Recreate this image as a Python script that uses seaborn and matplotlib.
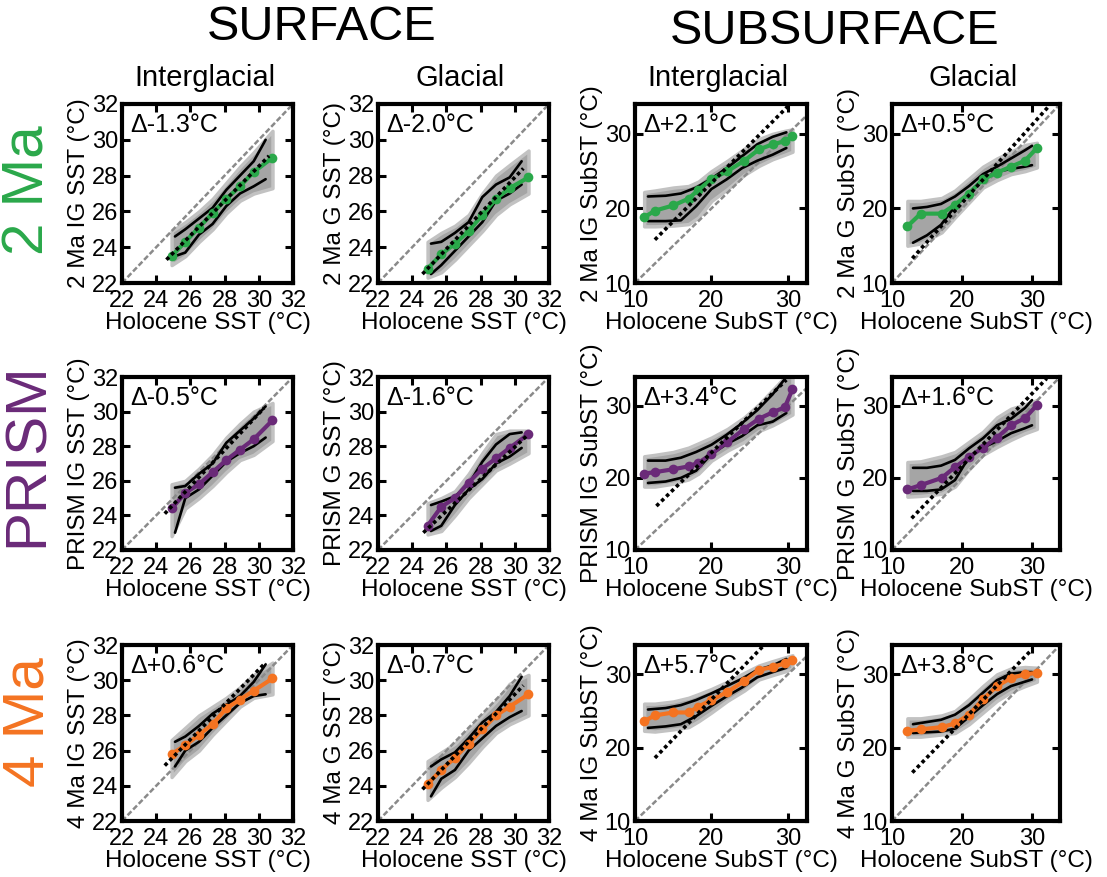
import matplotlib
matplotlib.use("Agg")
import matplotlib.pyplot as plt
import seaborn as sns

# ---------------- shared x (Holocene) positions ----------------
SURF_X_MEAN = [24.9, 25.7, 26.5, 27.3, 28.1, 28.9, 29.7, 30.8]
SURF_X_BOUND = [25.1, 25.7, 26.5, 27.3, 28.1, 28.9, 29.7, 30.4]
SUB3_X_MEAN = [11.2, 12.6, 15.0, 17.0, 18.3, 20.0, 22.1, 24.3, 26.2, 28.0, 29.6, 30.6]
SUB3_X_BOUND = [11.7, 14.0, 16.0, 18.0, 20.0, 22.0, 24.0, 26.0, 28.0, 29.8]
SUB4_X_MEAN = [12.2, 14.1, 17.1, 19.0, 21.0, 23.0, 25.0, 27.0, 29.0, 30.7]
SUB4_X_BOUND = [13.0, 15.0, 17.0, 19.0, 21.0, 23.0, 25.0, 27.0, 29.0, 30.0]

# ---------------- 2 Ma, surface, interglacial ----------------
MA2_SST_IG_MEAN = [23.5, 24.3, 25.1, 25.9, 26.7, 27.4, 28.2, 29.0]
MA2_SST_IG_UP = [24.6, 25.0, 25.6, 26.2, 27.2, 28.0, 28.8, 30.0]
MA2_SST_IG_LO = [23.5, 23.7, 24.7, 25.3, 26.3, 27.0, 27.4, 27.8]
MA2_SST_IG_BHI = [24.9, 25.4, 26.0, 26.7, 27.6, 28.5, 29.3, 30.5]
MA2_SST_IG_BLO = [23.0, 23.5, 24.3, 25.0, 25.9, 26.6, 27.0, 27.3]
MA2_SST_IG_REGX = [24.6, 30.6]
MA2_SST_IG_REGY = [23.3, 29.1]
# ---------------- 2 Ma, surface, glacial ----------------
MA2_SST_G_MEAN = [22.8, 23.6, 24.2, 24.9, 25.8, 26.7, 27.3, 27.9]
MA2_SST_G_UP = [24.2, 24.3, 24.8, 25.4, 26.8, 27.5, 27.9, 28.8]
MA2_SST_G_LO = [22.5, 23.0, 23.8, 24.6, 25.4, 26.6, 27.0, 27.5]
MA2_SST_G_BHI = [24.3, 24.8, 25.2, 25.8, 27.0, 28.0, 28.6, 29.4]
MA2_SST_G_BLO = [22.3, 22.6, 23.3, 24.1, 24.9, 25.8, 26.4, 27.0]
MA2_SST_G_REGX = [24.6, 30.5]
MA2_SST_G_REGY = [22.5, 28.4]
# ---------------- PRISM, surface, interglacial ----------------
PR_SST_IG_MEAN = [24.4, 25.3, 25.8, 26.5, 27.2, 27.8, 28.4, 29.5]
PR_SST_IG_UP = [25.6, 25.7, 26.4, 27.0, 28.2, 28.9, 29.6, 30.3]
PR_SST_IG_LO = [23.0, 25.0, 25.5, 26.3, 27.1, 27.6, 28.0, 28.5]
PR_SST_IG_BHI = [25.8, 26.0, 26.7, 27.5, 28.5, 29.3, 30.0, 30.5]
PR_SST_IG_BLO = [22.8, 24.4, 25.0, 25.7, 26.5, 27.2, 27.5, 28.3]
PR_SST_IG_REGX = [24.5, 30.3]
PR_SST_IG_REGY = [24.1, 30.2]
# ---------------- PRISM, surface, glacial ----------------
PR_SST_G_MEAN = [23.4, 24.5, 25.0, 25.9, 26.7, 27.3, 27.9, 28.7]
PR_SST_G_UP = [24.6, 24.8, 25.1, 25.8, 27.1, 28.1, 28.7, 28.8]
PR_SST_G_LO = [23.1, 23.4, 24.6, 25.5, 26.1, 27.0, 27.4, 27.9]
PR_SST_G_BHI = [24.7, 25.0, 25.4, 26.4, 27.6, 28.7, 28.9, 28.9]
PR_SST_G_BLO = [22.9, 23.1, 24.0, 25.0, 25.8, 26.6, 27.0, 27.6]
PR_SST_G_REGX = [24.65, 30.7]
PR_SST_G_REGY = [23.0, 28.6]
# ---------------- 4 Ma, surface, interglacial ----------------
MA4_SST_IG_MEAN = [25.8, 26.3, 26.9, 27.5, 28.4, 28.9, 29.4, 30.1]
MA4_SST_IG_UP = [26.5, 26.8, 27.4, 28.1, 28.6, 29.1, 29.9, 30.9]
MA4_SST_IG_LO = [25.1, 26.0, 26.5, 27.3, 28.0, 28.7, 29.1, 29.2]
MA4_SST_IG_BHI = [26.6, 27.3, 28.0, 28.5, 29.0, 29.6, 30.3, 31.0]
MA4_SST_IG_BLO = [24.5, 25.4, 26.0, 26.9, 27.7, 28.5, 29.0, 29.2]
MA4_SST_IG_REGX = [24.5, 30.4]
MA4_SST_IG_REGY = [25.15, 31.0]
# ---------------- 4 Ma, surface, glacial ----------------
MA4_SST_G_MEAN = [24.1, 24.9, 25.6, 26.4, 27.2, 28.0, 28.5, 29.2]
MA4_SST_G_UP = [25.1, 25.5, 25.9, 26.7, 27.6, 28.2, 29.1, 30.2]
MA4_SST_G_LO = [23.4, 24.4, 24.9, 26.0, 26.7, 27.4, 27.9, 28.25]
MA4_SST_G_BHI = [25.4, 25.9, 26.4, 27.2, 28.0, 28.8, 29.8, 30.3]
MA4_SST_G_BLO = [23.2, 23.9, 24.5, 25.3, 26.2, 27.0, 27.5, 28.0]
MA4_SST_G_REGX = [24.6, 30.5]
MA4_SST_G_REGY = [23.8, 29.7]

# ---------------- 2 Ma, subsurface, interglacial ----------------
MA2_SUB_IG_MEAN = [18.8, 19.7, 20.4, 21.3, 22.5, 23.9, 25.0, 26.4, 27.9, 28.6, 29.0, 29.7]
MA2_SUB_IG_UP = [21.6, 21.7, 22.0, 22.8, 24.0, 25.4, 27.0, 28.6, 29.6, 30.2]
MA2_SUB_IG_LO = [18.3, 18.3, 18.4, 20.3, 22.6, 23.9, 25.4, 26.4, 27.2, 28.1]
MA2_SUB_IG_BHI = [22.2, 22.4, 22.8, 23.0, 23.6, 25.0, 26.4, 28.0, 29.3, 30.0, 30.4, 30.6]
MA2_SUB_IG_BLO = [17.6, 17.6, 17.7, 17.9, 18.8, 21.0, 22.6, 24.5, 25.7, 26.6, 27.2, 27.6]
MA2_SUB_IG_REGX = [12.6, 30.2]
MA2_SUB_IG_REGY = [15.8, 33.9]
# ---------------- 2 Ma, subsurface, glacial ----------------
MA2_SUB_G_MEAN = [17.6, 19.3, 19.3, 20.5, 22.0, 23.9, 24.8, 25.6, 26.4, 28.1]
MA2_SUB_G_UP = [20.0, 20.2, 20.6, 21.6, 23.0, 24.6, 25.6, 26.7, 27.8, 28.4]
MA2_SUB_G_LO = [15.4, 16.4, 17.8, 20.3, 22.0, 24.0, 24.9, 25.3, 25.6, 25.8]
MA2_SUB_G_BHI = [21.0, 21.0, 21.4, 22.4, 24.0, 25.6, 26.7, 27.6, 28.5, 28.8]
MA2_SUB_G_BLO = [15.0, 15.3, 16.8, 18.8, 20.8, 22.8, 23.8, 24.6, 25.0, 25.5]
MA2_SUB_G_REGX = [12.9, 32.3]
MA2_SUB_G_REGY = [13.3, 33.6]
# ---------------- PRISM, subsurface, interglacial ----------------
PR_SUB_IG_MEAN = [20.6, 20.8, 21.2, 21.6, 22.1, 23.3, 25.0, 26.8, 28.2, 29.1, 29.8, 32.3]
PR_SUB_IG_UP = [22.4, 22.4, 22.8, 23.6, 24.6, 26.0, 27.6, 29.4, 31.6, 34.0]
PR_SUB_IG_LO = [19.3, 19.5, 20.0, 21.0, 23.3, 24.7, 25.8, 27.3, 27.8, 29.0]
PR_SUB_IG_BHI = [23.0, 23.2, 23.6, 24.2, 24.8, 25.6, 26.8, 28.4, 30.2, 32.2, 34.0, 34.0]
PR_SUB_IG_BLO = [18.8, 18.8, 19.2, 19.8, 20.6, 22.4, 23.8, 25.0, 26.5, 27.3, 28.2, 28.8]
PR_SUB_IG_REGX = [12.8, 29.8]
PR_SUB_IG_REGY = [16.1, 33.6]
# ---------------- PRISM, subsurface, glacial ----------------
PR_SUB_G_MEAN = [18.4, 19.0, 20.0, 21.5, 22.9, 24.2, 25.6, 27.3, 28.3, 30.1]
PR_SUB_G_UP = [21.4, 21.4, 21.7, 22.5, 24.1, 25.5, 27.3, 28.2, 29.7, 30.8]
PR_SUB_G_LO = [18.2, 18.2, 18.4, 19.7, 22.9, 24.2, 25.1, 26.2, 26.9, 27.3]
PR_SUB_G_BHI = [22.2, 22.3, 23.0, 23.6, 25.0, 26.4, 28.4, 29.6, 30.2, 30.8]
PR_SUB_G_BLO = [17.4, 17.5, 17.8, 18.8, 21.2, 23.2, 24.3, 25.3, 26.2, 26.8]
PR_SUB_G_REGX = [12.8, 32.1]
PR_SUB_G_REGY = [14.4, 33.8]
# ---------------- 4 Ma, subsurface, interglacial ----------------
MA4_SUB_IG_MEAN = [23.6, 24.4, 24.8, 24.8, 25.6, 26.5, 27.6, 29.1, 30.6, 31.0, 31.5, 31.9]
MA4_SUB_IG_UP = [25.2, 25.4, 25.8, 26.5, 27.4, 28.4, 29.4, 30.6, 31.2, 32.1]
MA4_SUB_IG_LO = [22.7, 22.9, 23.2, 24.3, 25.7, 27.0, 28.2, 29.6, 30.3, 30.9]
MA4_SUB_IG_BHI = [26.0, 26.0, 26.3, 26.8, 27.3, 28.0, 29.0, 30.2, 31.2, 31.8, 32.3, 32.6]
MA4_SUB_IG_BLO = [22.3, 22.2, 22.5, 22.8, 23.6, 24.8, 26.4, 27.8, 29.3, 29.9, 30.4, 30.8]
MA4_SUB_IG_REGX = [12.6, 26.8]
MA4_SUB_IG_REGY = [18.6, 33.9]
# ---------------- 4 Ma, subsurface, glacial ----------------
MA4_SUB_G_MEAN = [22.3, 22.5, 22.8, 23.3, 24.5, 26.6, 28.4, 29.5, 30.0, 30.2]
MA4_SUB_G_UP = [23.2, 23.5, 23.8, 24.5, 25.8, 27.5, 29.2, 30.1, 30.3, 30.3]
MA4_SUB_G_LO = [22.0, 22.1, 22.2, 22.6, 24.2, 25.8, 27.3, 28.4, 29.0, 29.3]
MA4_SUB_G_BHI = [24.0, 24.0, 24.4, 25.0, 26.6, 28.4, 30.0, 30.8, 31.0, 30.9]
MA4_SUB_G_BLO = [21.5, 21.5, 21.8, 22.0, 23.2, 24.8, 26.4, 27.6, 28.4, 29.0]
MA4_SUB_G_REGX = [12.9, 30.0]
MA4_SUB_G_REGY = [16.6, 33.4]

ROW_NAMES = ["2 Ma", "PRISM", "4 Ma"]
ROW_COLORS = ["#2aa84a", "#6a2a78", "#f47321"]
COL_TITLES = ["Interglacial", "Glacial", "Interglacial", "Glacial"]
DELTAS = [["Δ-1.3°C", "Δ-2.0°C", "Δ+2.1°C", "Δ+0.5°C"],
          ["Δ-0.5°C", "Δ-1.6°C", "Δ+3.4°C", "Δ+1.6°C"],
          ["Δ+0.6°C", "Δ-0.7°C", "Δ+5.7°C", "Δ+3.8°C"]]
YLABELS = [["2 Ma IG SST (°C)", "2 Ma G SST (°C)", "2 Ma IG SubST (°C)", "2 Ma G SubST (°C)"],
           ["PRISM IG SST (°C)", "PRISM G SST (°C)", "PRISM IG SubST (°C)", "PRISM G SubST (°C)"],
           ["4 Ma IG SST (°C)", "4 Ma G SST (°C)", "4 Ma IG SubST (°C)", "4 Ma G SubST (°C)"]]
XLABELS = ["Holocene SST (°C)", "Holocene SST (°C)", "Holocene SubST (°C)", "Holocene SubST (°C)"]
SURF_TICKS = [22, 24, 26, 28, 30, 32]
SUB_TICKS = [10, 20, 30]

PANELS = [
    [(MA2_SST_IG_MEAN, MA2_SST_IG_UP, MA2_SST_IG_LO, MA2_SST_IG_BHI, MA2_SST_IG_BLO, MA2_SST_IG_REGX, MA2_SST_IG_REGY),
     (MA2_SST_G_MEAN, MA2_SST_G_UP, MA2_SST_G_LO, MA2_SST_G_BHI, MA2_SST_G_BLO, MA2_SST_G_REGX, MA2_SST_G_REGY),
     (MA2_SUB_IG_MEAN, MA2_SUB_IG_UP, MA2_SUB_IG_LO, MA2_SUB_IG_BHI, MA2_SUB_IG_BLO, MA2_SUB_IG_REGX, MA2_SUB_IG_REGY),
     (MA2_SUB_G_MEAN, MA2_SUB_G_UP, MA2_SUB_G_LO, MA2_SUB_G_BHI, MA2_SUB_G_BLO, MA2_SUB_G_REGX, MA2_SUB_G_REGY)],
    [(PR_SST_IG_MEAN, PR_SST_IG_UP, PR_SST_IG_LO, PR_SST_IG_BHI, PR_SST_IG_BLO, PR_SST_IG_REGX, PR_SST_IG_REGY),
     (PR_SST_G_MEAN, PR_SST_G_UP, PR_SST_G_LO, PR_SST_G_BHI, PR_SST_G_BLO, PR_SST_G_REGX, PR_SST_G_REGY),
     (PR_SUB_IG_MEAN, PR_SUB_IG_UP, PR_SUB_IG_LO, PR_SUB_IG_BHI, PR_SUB_IG_BLO, PR_SUB_IG_REGX, PR_SUB_IG_REGY),
     (PR_SUB_G_MEAN, PR_SUB_G_UP, PR_SUB_G_LO, PR_SUB_G_BHI, PR_SUB_G_BLO, PR_SUB_G_REGX, PR_SUB_G_REGY)],
    [(MA4_SST_IG_MEAN, MA4_SST_IG_UP, MA4_SST_IG_LO, MA4_SST_IG_BHI, MA4_SST_IG_BLO, MA4_SST_IG_REGX, MA4_SST_IG_REGY),
     (MA4_SST_G_MEAN, MA4_SST_G_UP, MA4_SST_G_LO, MA4_SST_G_BHI, MA4_SST_G_BLO, MA4_SST_G_REGX, MA4_SST_G_REGY),
     (MA4_SUB_IG_MEAN, MA4_SUB_IG_UP, MA4_SUB_IG_LO, MA4_SUB_IG_BHI, MA4_SUB_IG_BLO, MA4_SUB_IG_REGX, MA4_SUB_IG_REGY),
     (MA4_SUB_G_MEAN, MA4_SUB_G_UP, MA4_SUB_G_LO, MA4_SUB_G_BHI, MA4_SUB_G_BLO, MA4_SUB_G_REGX, MA4_SUB_G_REGY)],
]

# ---------------- style ----------------
sns.set_style("ticks")
plt.rcParams["font.family"] = ["Liberation Sans", "DejaVu Sans"]
for key in ("text.color", "axes.labelcolor", "xtick.color", "ytick.color", "axes.edgecolor"):
    plt.rcParams[key] = "black"

W, H = 1107, 877
fig = plt.figure(figsize=(W / 100, H / 100), dpi=100)

COL_LEFT = [122, 378, 635, 892]
COL_W = [171, 171, 172, 168]
ROW_TB = [(104, 283), (377, 550), (645, 821)]


def rect(c, r):
    top, bot = ROW_TB[r]
    return [COL_LEFT[c] / W, 1 - bot / H, COL_W[c] / W, (bot - top) / H]


for r in range(3):
    for c in range(4):
        ax = fig.add_axes(rect(c, r))
        mean, up, lo, bhi, blo, regx, regy = PANELS[r][c]
        if c < 2:
            xm, xb = SURF_X_MEAN, SURF_X_BOUND
            xlim, ylim, ticks = (22, 32), (22, 32), SURF_TICKS
        elif c == 2:
            xm, xb = SUB3_X_MEAN, SUB3_X_BOUND
            xlim, ylim, ticks = (10, 32.5), (10, 34), SUB_TICKS
        else:
            xm, xb = SUB4_X_MEAN, SUB4_X_BOUND
            xlim, ylim, ticks = (10, 34), (10, 34), SUB_TICKS

        # grey scatter cloud
        ax.fill_between(xm, blo, bhi, facecolor="#a5a5a5", edgecolor="#c2c2c2",
                        linewidth=2.5, zorder=1)
        # 1:1 line
        lo_lim = min(xlim[0], ylim[0])
        hi_lim = max(xlim[1], ylim[1])
        ax.plot([lo_lim, hi_lim], [lo_lim, hi_lim], color="#8a8a8a",
                linestyle=(0, (2.2, 1.0)), linewidth=1.8, zorder=2)
        # percentile bounds
        sns.lineplot(x=xb, y=up, ax=ax, color="black", linewidth=1.9,
                     sort=False, estimator=None, zorder=3)
        sns.lineplot(x=xb, y=lo, ax=ax, color="black", linewidth=1.9,
                     sort=False, estimator=None, zorder=3)
        # mean line
        sns.lineplot(x=xm, y=mean, ax=ax, color=ROW_COLORS[r], linewidth=3.0,
                     marker="o", markersize=7, markeredgewidth=0,
                     sort=False, estimator=None, zorder=4)
        # regression line
        sns.lineplot(x=regx, y=regy, ax=ax, color="black", linewidth=2.6,
                     linestyle=(0, (1.0, 0.9)), sort=False, estimator=None, zorder=5)

        ax.set_xlim(*xlim)
        ax.set_ylim(*ylim)
        ax.set_xticks(ticks)
        ax.set_yticks(ticks)
        ax.tick_params(direction="in", length=6, width=2.2, top=True, right=True,
                       labelsize=17, colors="black")
        ax.tick_params(axis="x", pad=5)
        ax.tick_params(axis="y", pad=3)
        for sp in ax.spines.values():
            sp.set_linewidth(3.0)
            sp.set_color("black")
            sp.set_visible(True)
        ax.set_xlabel(XLABELS[c], fontsize=17.5, labelpad=0, color="black")
        ax.set_ylabel(YLABELS[r][c], fontsize=17.5, labelpad=1, color="black")
        ax.text(0.05, 0.88, DELTAS[r][c], transform=ax.transAxes, fontsize=18,
                ha="left", va="center", zorder=6, color="black")

# column / section titles
fig.text(322 / W, 1 - 28 / H, "SURFACE", fontsize=35, ha="center", va="center", color="black")
fig.text(835 / W, 1 - 31 / H, "SUBSURFACE", fontsize=35, ha="center", va="center", color="black")
for c, t in enumerate(COL_TITLES):
    cx = (COL_LEFT[c] + COL_W[c] / 2 - 3) / W
    fig.text(cx, 1 - 78 / H, t, fontsize=21, ha="center", va="center", color="black")
# row labels
ROW_Y = [190, 455, 722]
for r, name in enumerate(ROW_NAMES):
    fig.text(28 / W, 1 - ROW_Y[r] / H, name, fontsize=42, rotation=90,
             ha="center", va="center", color=ROW_COLORS[r])

fig.savefig("out.png", dpi=100)
